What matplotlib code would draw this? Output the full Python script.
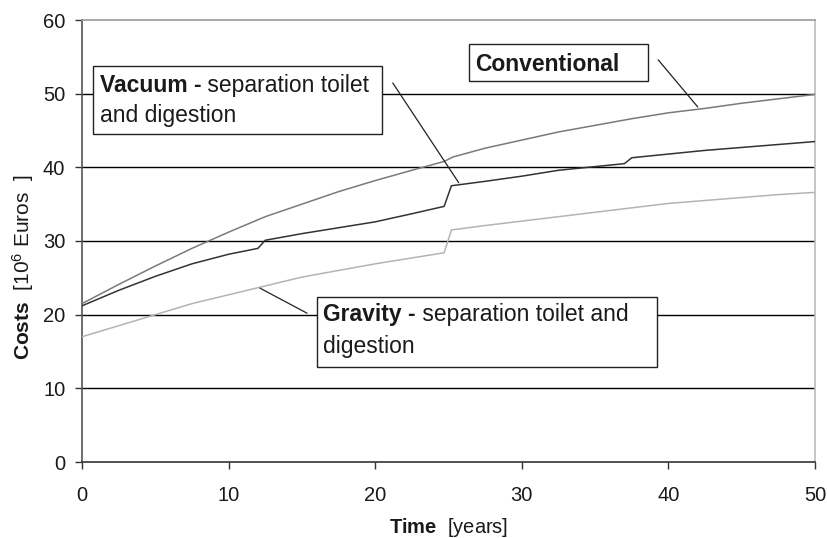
import matplotlib
matplotlib.use("Agg")
import matplotlib.pyplot as plt
from matplotlib.patches import Rectangle

# time axis [years] for each series (extra points around the cost jumps)
t_conv = [0, 2.5, 5, 7.5, 10, 12.5, 15, 17.5, 20, 22.5, 24.7, 25.3, 27.5, 30,
          32.5, 35, 37.5, 40, 42.5, 45, 47.5, 50]
conventional = [21.5, 24.1, 26.6, 29.0, 31.2, 33.3, 35.0, 36.7, 38.2, 39.6, 40.8,
                41.4, 42.6, 43.7, 44.8, 45.7, 46.6, 47.4, 48.0, 48.7, 49.3, 49.9]

t_vac = [0, 2.5, 5, 7.5, 10, 12.0, 12.5, 15, 17.5, 20, 22.5, 24.7, 25.2, 27.5,
         30, 32.5, 35, 37.0, 37.5, 40, 42.5, 45, 47.5, 50]
vacuum = [21.2, 23.3, 25.2, 26.9, 28.2, 29.0, 30.1, 31.0, 31.8, 32.6, 33.7, 34.7,
          37.5, 38.1, 38.8, 39.6, 40.1, 40.5, 41.3, 41.8, 42.3, 42.7, 43.1, 43.5]

t_grav = [0, 2.5, 5, 7.5, 10, 12.5, 15, 17.5, 20, 22.5, 24.7, 25.2, 27.5, 30,
          32.5, 35, 37.5, 40, 42.5, 45, 47.5, 50]
gravity = [17.0, 18.5, 20.0, 21.5, 22.7, 23.9, 25.1, 26.0, 26.9, 27.7, 28.4, 31.5,
           32.1, 32.7, 33.3, 33.9, 34.5, 35.1, 35.5, 35.9, 36.3, 36.6]

x_ticks = [0, 10, 20, 30, 40, 50]
y_ticks = [0, 10, 20, 30, 40, 50, 60]

plt.rcParams["font.family"] = ["Liberation Sans", "DejaVu Sans"]
plt.rcParams["mathtext.fontset"] = "custom"
plt.rcParams["mathtext.rm"] = "Liberation Sans"
plt.rcParams["mathtext.it"] = "Liberation Sans"
plt.rcParams["mathtext.bf"] = "Liberation Sans:bold"

fig = plt.figure(figsize=(8.28, 5.38), dpi=100)
ax = fig.add_axes([82 / 828, 1 - 462 / 538, 733 / 828, 442 / 538])

for v in y_ticks[1:-1]:
    ax.axhline(v, color="black", lw=1.0, zorder=1)

ax.plot(t_conv, conventional, color="#7a7a7a", lw=1.1, zorder=3)
ax.plot(t_vac, vacuum, color="#333333", lw=1.1, zorder=3)
ax.plot(t_grav, gravity, color="#b4b4b4", lw=1.1, zorder=3)

ax.set_xlim(0, 50)
ax.set_ylim(0, 60)
ax.set_xticks(x_ticks)
ax.set_yticks(y_ticks)
ax.tick_params(labelsize=14.5, direction="out", length=5, width=1, color="#333333",
               labelcolor="#1a1a1a")
ax.tick_params(axis="x", pad=12)
ax.tick_params(axis="y", pad=7)

ax.spines["left"].set_color("#555555")
ax.spines["bottom"].set_color("#333333")
ax.spines["top"].set_color("#999999")
ax.spines["right"].set_color("#bbbbbb")
for s in ax.spines.values():
    s.set_linewidth(1.2)

ax.set_xlabel(r"$\mathbf{Time}$  [years]", fontsize=14.5, color="#1a1a1a")
ax.set_ylabel(r"$\mathbf{Costs}$  [10$^6$ Euros  ]", fontsize=15, color="#1a1a1a")
ax.xaxis.label.set_va("center")
ax.yaxis.label.set_va("center")
ax.xaxis.set_label_coords(0.5, -0.149)
ax.yaxis.set_label_coords(-0.08, 0.44)

# label boxes
box_kw = dict(fc="white", ec="#222222", lw=1.0, zorder=5, clip_on=False)
ax.add_patch(Rectangle((0.75, 44.5), 19.7, 9.25, **box_kw))
ax.add_patch(Rectangle((26.4, 51.7), 12.2, 5.0, **box_kw))
ax.add_patch(Rectangle((16.0, 12.9), 23.2, 9.5, **box_kw))

txt_kw = dict(fontsize=16.5, ha="left", zorder=6, color="#1a1a1a")


def box_label(x, y, bold, rest, line2, gap):
    t1 = ax.text(x, y, bold, fontweight="bold", va="center", **txt_kw)
    ax.annotate(rest, xy=(1, 0), xycoords=t1, va="bottom", **txt_kw)
    if line2:
        ax.annotate(line2, xy=(0, 0), xycoords=t1, xytext=(0, -gap),
                    textcoords="offset pixels", va="bottom", **txt_kw)


box_label(1.2, 51.05, "Vacuum -", " separation toilet", "and digestion", 30)
box_label(26.85, 54.0, "Conventional", "", "", 0)
box_label(16.45, 20.0, "Gravity -", " separation toilet and", "digestion", 32)

# leader lines
lead = dict(arrowstyle="-", color="#222222", lw=0.9, shrinkA=0, shrinkB=0)
ax.annotate("", xy=(25.7, 37.9), xytext=(21.2, 51.45), arrowprops=lead, zorder=4)
ax.annotate("", xy=(42.0, 48.2), xytext=(39.3, 54.6), arrowprops=lead, zorder=4)
ax.annotate("", xy=(15.35, 20.2), xytext=(12.14, 23.6), arrowprops=lead, zorder=4)

fig.savefig("out.png", dpi=100)
